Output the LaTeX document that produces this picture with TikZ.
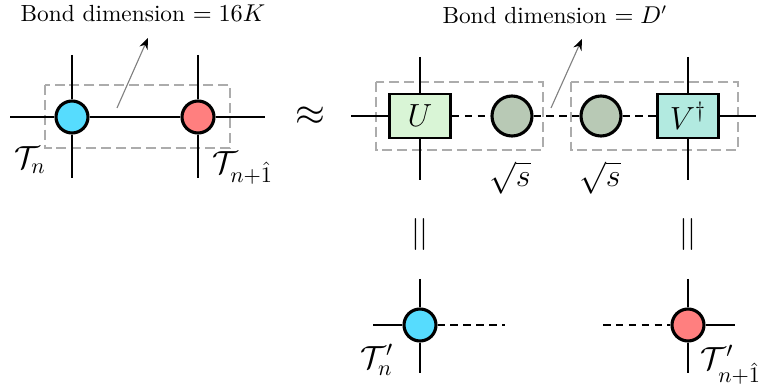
\documentclass[tikz,border=0pt]{standalone}
\usepackage{amsmath}
\usepackage{xcolor}
\usetikzlibrary{arrows.meta}
\definecolor{siteblue}{HTML}{56DCFE}
\definecolor{sitered}{HTML}{FF7F7F}
\definecolor{ufill}{HTML}{D9F5D6}
\definecolor{vfill}{HTML}{B2EAE0}
\definecolor{sfill}{HTML}{B8C9B5}

\begin{document}
\begin{tikzpicture}[x=0.45pt, y=-0.45pt, >=Stealth,
  leg/.style={line width=0.95pt},
  bondleg/.style={line width=0.95pt, dash pattern=on 3.4pt off 2.4pt},
  site/.style={circle, draw, line width=1.4pt, minimum size=14.4pt, inner sep=0pt},
  sing/.style={circle, draw, line width=1.4pt, fill=sfill, minimum size=18pt, inner sep=0pt},
  mat/.style={draw, line width=1.2pt, minimum width=27.5pt, minimum height=19.8pt, inner sep=0pt},
  bondbox/.style={draw=gray!65, line width=0.9pt, dash pattern=on 4.5pt off 2.2pt},
  pointer/.style={->, gray, line width=0.5pt, arrows={-Stealth[black, length=5pt, width=4pt]}},
  title/.style={font=\fontsize{10.5}{12}\selectfont},
  lbl/.style={font=\Large}]
  \useasboundingbox (0,0) rectangle (762,391);

  % left: two sites before truncation
  \draw[bondbox] (45,85) rectangle (230,148);
  \node[site, fill=siteblue] (Tn) at (72,117) {};
  \node[site, fill=sitered] (Tm) at (198,117) {};
  \coordinate (Tnw) at (10,117);
  \coordinate (Tnn) at (72,55);
  \coordinate (Tns) at (72,178);
  \coordinate (Tme) at (265,117);
  \coordinate (Tmn) at (198,55);
  \coordinate (Tms) at (198,178);
  \draw[leg] (Tnw) -- (Tn) -- (Tm) -- (Tme);
  \draw[leg] (Tnn) -- (Tn) -- (Tns);
  \draw[leg] (Tmn) -- (Tm) -- (Tms);
  \coordinate (arrA) at (117,108);
  \coordinate (arrAt) at (148,38);
  \draw[pointer] (arrA) -- (arrAt);
  \node[title] (titleA) at (143,13) {Bond dimension $= 16K$};
  \node[lbl] (labTn) at (30,160) {$\mathcal{T}_n$};
  \node[lbl] (labTm) at (243,168) {$\mathcal{T}_{n+\hat{1}}$};

  \node[font=\LARGE] (approx) at (310,116) {$\approx$};

  % right: after SVD
  \draw[bondbox] (376,82) rectangle (543,150);
  \draw[bondbox] (571,82) rectangle (738,150);
  \node[mat, fill=ufill] (U) at (420,116) {\Large $U$};
  \node[sing] (s1) at (512,116) {};
  \node[sing] (s2) at (601,116) {};
  \node[mat, fill=vfill] (V) at (688,116) {\Large $V^{\dagger}$};
  \coordinate (Uw) at (351,116);
  \coordinate (Un) at (420,57);
  \coordinate (Us) at (420,180);
  \coordinate (Ve) at (756,116);
  \coordinate (Vn) at (688,57);
  \coordinate (Vs) at (688,180);
  \draw[leg] (Uw) -- (U);
  \draw[leg] (Un) -- (U) -- (Us);
  \draw[leg] (V) -- (Ve);
  \draw[leg] (Vn) -- (V) -- (Vs);
  \draw[bondleg] (U) -- (s1) -- (s2) -- (V);
  \coordinate (arrB) at (551,108);
  \coordinate (arrBt) at (582,39);
  \draw[pointer] (arrB) -- (arrBt);
  \node[title] (titleB) at (555,15) {Bond dimension $= D'$};
  \node[lbl] (labs1) at (510,178) {$\sqrt{s}$};
  \node[lbl] (labs2) at (600,178) {$\sqrt{s}$};

  \node[lbl] (eqA) at (420,235) {$||$};
  \node[lbl] (eqB) at (688,235) {$||$};

  % bottom: new sites
  \node[site, fill=siteblue] (Tpn) at (420,325) {};
  \node[site, fill=sitered] (Tpm) at (688,325) {};
  \coordinate (Tpnw) at (373,325);
  \coordinate (Tpne) at (505,325);
  \coordinate (Tpnn) at (420,279);
  \coordinate (Tpns) at (420,373);
  \coordinate (Tpmw) at (603,325);
  \coordinate (Tpme) at (735,325);
  \coordinate (Tpmn) at (688,279);
  \coordinate (Tpms) at (688,373);
  \draw[leg] (Tpnw) -- (Tpn);
  \draw[leg] (Tpnn) -- (Tpn) -- (Tpns);
  \draw[bondleg] (Tpn) -- (Tpne);
  \draw[bondleg] (Tpmw) -- (Tpm);
  \draw[leg] (Tpm) -- (Tpme);
  \draw[leg] (Tpmn) -- (Tpm) -- (Tpms);
  \node[lbl] (labTpn) at (377,360) {$\mathcal{T}'_n$};
  \node[lbl] (labTpm) at (731,365) {$\mathcal{T}'_{n+\hat{1}}$};
\end{tikzpicture}
\end{document}
